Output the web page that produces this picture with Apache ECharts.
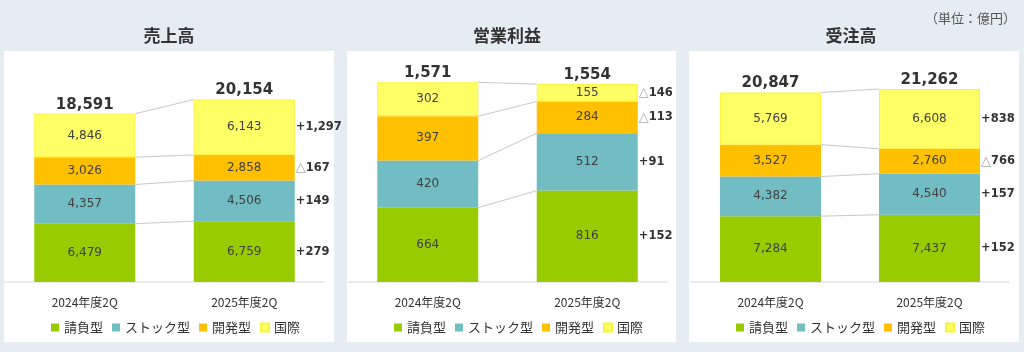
<!DOCTYPE html>
<html>
<head>
<meta charset="utf-8">
<script src="https://cdn.jsdelivr.net/npm/echarts@6/dist/echarts.min.js"></script>
<style>
html,body{margin:0;padding:0;background:#e5edf0;}
#c{width:1024px;height:352px;}
</style>
</head>
<body>
<div id="c"></div>
<script>
// ---- data ----
const categories = ['2024年度2Q', '2025年度2Q'];
const segments = ['請負型', 'ストック型', '開発型', '国際'];
const panelTitles = ['売上高', '営業利益', '受注高'];
const unitLabel = '（単位：億円）';

const sales2024 = [6479, 4357, 3026, 4846];
const sales2025 = [6759, 4506, 2858, 6143];
const salesTotal = [18591, 20154];
const salesDiff = [279, 149, -167, 1297];

const profit2024 = [664, 420, 397, 302];
const profit2025 = [816, 512, 284, 155];
const profitTotal = [1571, 1554];
const profitDiff = [152, 91, -113, -146];

const orders2024 = [7284, 4382, 3527, 5769];
const orders2025 = [7437, 4540, 2760, 6608];
const ordersTotal = [20847, 21262];
const ordersDiff = [152, 157, -766, 838];

const yMax = [25000, 2000, 25000];

// ---- styles / layout ----
const segColors = ['#99cc00', '#72bcc4', '#ffc000', '#ffff66'];
const NUM_FONT = '"DejaVu Sans", Verdana, sans-serif';
const JP_FONT = '"Noto Sans CJK JP", sans-serif';
const BAR_W = 101;
const panels = [
  {rect: [4, 51, 330, 291], grid: {left: 5, right: 700, top: 57, bottom: 70}, cx: 169, legendLeft: 46},
  {rect: [347, 51, 329, 291], grid: {left: 348, right: 357, top: 58, bottom: 70}, cx: 507, legendLeft: 389},
  {rect: [689, 51, 330, 291], grid: {left: 691, right: 15, top: 56, bottom: 70}, cx: 851, legendLeft: 731}
];
const panelData = [
  {a: sales2024, b: sales2025, total: salesTotal, diff: salesDiff},
  {a: profit2024, b: profit2025, total: profitTotal, diff: profitDiff},
  {a: orders2024, b: orders2025, total: ordersTotal, diff: ordersDiff}
];

const fmt = v => Math.abs(v).toLocaleString('en-US');
function cumulative(arr) {
  const out = []; let s = 0;
  arr.forEach(v => { s += v; out.push(s); });
  return out;
}

const chart = echarts.init(document.getElementById('c'), null, {renderer: 'canvas'});

const graphics = [];
panels.forEach((p, i) => {
  graphics.push({type: 'rect', z: -10, silent: true,
    shape: {x: p.rect[0], y: p.rect[1], width: p.rect[2], height: p.rect[3]},
    style: {fill: '#ffffff'}});
  graphics.push({type: 'text', silent: true,
    style: {text: panelTitles[i], x: p.cx, y: 36, align: 'center', verticalAlign: 'middle',
      font: 'bold 17px ' + JP_FONT, fill: '#333333'}});
});
graphics.push({type: 'text', silent: true,
  style: {text: unitLabel, x: 1016, y: 18, align: 'right', verticalAlign: 'middle',
    font: '13px ' + JP_FONT, fill: '#555555'}});

const grids = [], xAxes = [], yAxes = [], legends = [], series = [];
panels.forEach((p, pi) => {
  grids.push(p.grid);
  xAxes.push({type: 'category', gridIndex: pi, data: categories,
    axisTick: {show: false},
    axisLine: {lineStyle: {color: '#ebebeb', width: 2}},
    axisLabel: {color: '#333333', fontSize: 12, fontFamily: JP_FONT, margin: 14}});
  yAxes.push({type: 'value', gridIndex: pi, min: 0, max: yMax[pi], show: false,
    splitLine: {show: false}});
  legends.push({data: segments, left: p.legendLeft, top: 316, itemWidth: 8, itemHeight: 8,
    itemGap: 9, icon: 'rect', selectedMode: false,
    textStyle: {color: '#333333', fontSize: 13, fontFamily: JP_FONT}});

  const d = panelData[pi];
  segments.forEach((name, si) => {
    series.push({
      type: 'bar', name: name, xAxisIndex: pi, yAxisIndex: pi, stack: 'p' + pi,
      barWidth: BAR_W, data: [d.a[si], d.b[si]],
      itemStyle: si === 3 ? {color: segColors[si], borderColor: '#fff23a', borderWidth: 1} : {color: segColors[si]},
      label: {show: true, position: 'inside', color: '#404040', fontSize: 12, fontFamily: NUM_FONT,
        formatter: q => fmt(q.value)},
      emphasis: {disabled: true}
    });
  });

  const cumA = cumulative(d.a), cumB = cumulative(d.b);
  // connector lines
  series.push({
    type: 'custom', xAxisIndex: pi, yAxisIndex: pi, silent: true, z: 1,
    data: cumA.map((v, i) => [0, v]),
    renderItem: (params, api) => {
      const i = params.dataIndex;
      const p1 = api.coord([0, cumA[i]]);
      const p2 = api.coord([1, cumB[i]]);
      return {type: 'line',
        shape: {x1: p1[0] + BAR_W / 2, y1: p1[1], x2: p2[0] - BAR_W / 2, y2: p2[1]},
        style: {stroke: '#c8c8c8', lineWidth: 1}};
    }
  });
  // total labels
  series.push({
    type: 'custom', xAxisIndex: pi, yAxisIndex: pi, silent: true, z: 3,
    data: d.total.map((v, i) => [i, v]),
    renderItem: (params, api) => {
      const i = params.dataIndex;
      const top = i === 0 ? cumA[cumA.length - 1] : cumB[cumB.length - 1];
      const pt = api.coord([i, top]);
      return {type: 'text',
        style: {text: fmt(d.total[i]), x: pt[0], y: pt[1] - 9, align: 'center', verticalAlign: 'middle',
          font: 'bold 15px ' + NUM_FONT, fill: '#333333'}};
    }
  });
  // difference labels
  series.push({
    type: 'custom', xAxisIndex: pi, yAxisIndex: pi, silent: true, z: 3,
    data: d.diff.map((v, i) => [1, v]),
    renderItem: (params, api) => {
      const i = params.dataIndex;
      const mid = cumB[i] - d.b[i] / 2;
      const pt = api.coord([1, mid]);
      const v = d.diff[i];
      const txt = v < 0 ? '{t|△}{n|' + fmt(v) + '}' : '{n|+' + fmt(v) + '}';
      return {type: 'text',
        style: {text: txt, x: pt[0] + BAR_W / 2 + 1, y: pt[1], align: 'left', verticalAlign: 'middle',
          rich: {
            t: {fontSize: 13, fontFamily: NUM_FONT, fill: '#a8a8a8', color: '#a8a8a8'},
            n: {fontSize: 11.5, fontWeight: 'bold', fontFamily: NUM_FONT, fill: '#333333', color: '#333333'}
          }}};
    }
  });
});

chart.setOption({
  animation: false,
  backgroundColor: '#e5edf0',
  graphic: graphics,
  grid: grids,
  xAxis: xAxes,
  yAxis: yAxes,
  legend: legends,
  series: series
});
</script>
</body>
</html>
